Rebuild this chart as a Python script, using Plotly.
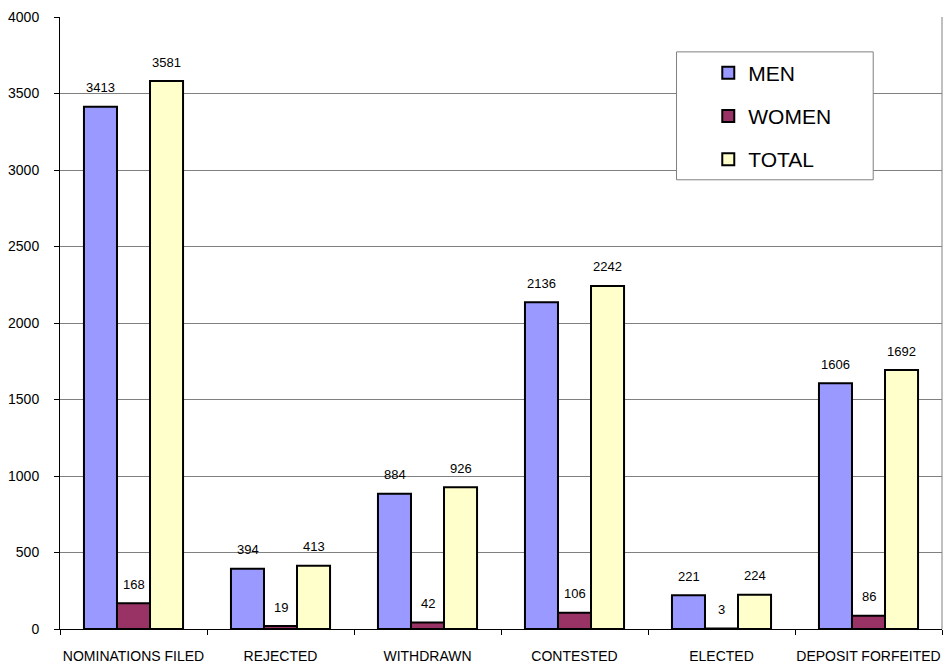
import plotly.graph_objects as go

categories = ["NOMINATIONS FILED", "REJECTED", "WITHDRAWN", "CONTESTED", "ELECTED", "DEPOSIT FORFEITED"]
men = [3413, 394, 884, 2136, 221, 1606]
women = [168, 19, 42, 106, 3, 86]
total = [3581, 413, 926, 2242, 224, 1692]

series = [("MEN", men, "#9999FF"), ("WOMEN", women, "#993366"), ("TOTAL", total, "#FFFFCC")]

FONT = "Liberation Sans, Arial, sans-serif"

fig = go.Figure()
for i, (name, vals, col) in enumerate(series):
    fig.add_trace(go.Bar(
        name=name, x=categories, y=vals,
        marker=dict(color=col, line=dict(color="black", width=2)),
        legendgroup=name,
    ))

shifts = [-33, 0, 33]
for (name, vals, col), xs in zip(series, shifts):
    for c, v in zip(categories, vals):
        fig.add_annotation(x=c, y=v, text=str(v), showarrow=False,
                           xshift=xs, yshift=19, yanchor="middle",
                           font=dict(family=FONT, size=13, color="black"))

# right border of plot area
fig.add_shape(type="line", xref="paper", yref="paper", x0=1, x1=1, y0=0, y1=1,
              line=dict(color="#808080", width=1))
# legend frame
fig.add_shape(type="rect", xref="paper", yref="paper", x0=0.699, x1=0.922, y0=0.734, y1=0.943,
              line=dict(color="#808080", width=1), fillcolor="white", layer="above")

fig.update_layout(
    width=944, height=667,
    margin=dict(l=60, r=2, t=17, b=38),
    paper_bgcolor="white", plot_bgcolor="white",
    barmode="group", bargap=0.326, bargroupgap=0,
    font=dict(family=FONT, size=14, color="black"),
    showlegend=True,
    legend=dict(x=0.735, y=0.942, xanchor="left", yanchor="top",
                borderwidth=0, bgcolor="rgba(0,0,0,0)",
                font=dict(family=FONT, size=21, color="black"),
                tracegroupgap=13, traceorder="grouped",
                itemwidth=30),
    xaxis=dict(showline=True, linecolor="black", linewidth=1,
               ticks="outside", tickson="boundaries", ticklen=5, tickcolor="black",
               tickfont=dict(family=FONT, size=14), showgrid=False,
               tickangle=0, automargin=False, ticklabelstandoff=14),
    yaxis=dict(range=[0, 4000], dtick=500, showline=True, linecolor="black", linewidth=1,
               ticks="outside", ticklen=5, tickcolor="black",
               showgrid=True, gridcolor="#808080", gridwidth=1,
               tickfont=dict(family=FONT, size=14), zeroline=False, automargin=False,
               ticklabelstandoff=12),
)

fig.write_html("out.html", post_script="document.body.style.margin='0';",
               config={"displayModeBar": False})
